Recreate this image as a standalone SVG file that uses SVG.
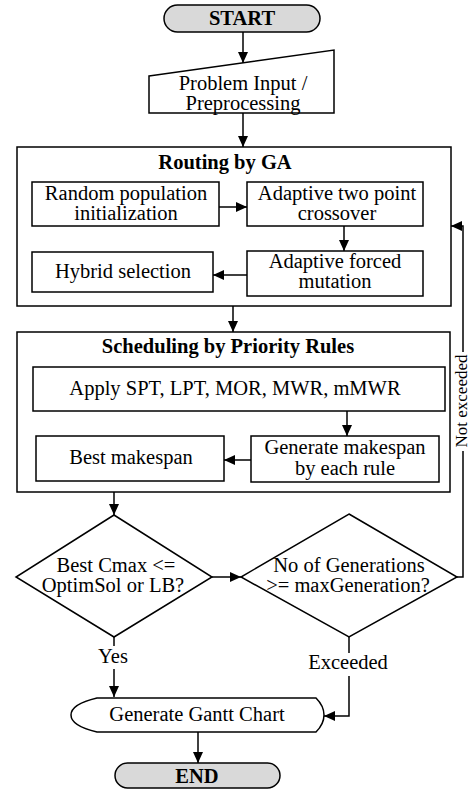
<svg xmlns="http://www.w3.org/2000/svg" width="470" height="789" viewBox="0 0 470 789">
<style>
  .shape { fill: #ffffff; stroke: #000000; stroke-width: 1.5; }
  .term { fill: #d9d9d9; stroke: #000000; stroke-width: 1.5; }
  .t { font-family: "Liberation Serif", "Times New Roman", serif; font-size: 20.5px; fill: #000000; text-anchor: middle; }
  .b { font-weight: bold; }
  .conn path { fill: none; stroke: #000000; stroke-width: 1.5; }
</style>
<defs>
  <marker id="arrow" markerUnits="userSpaceOnUse" markerWidth="12" markerHeight="12" refX="11" refY="6" orient="auto">
    <path d="M0,1 L11,6 L0,11 Z" fill="#000000"/>
  </marker>
</defs>
<rect width="470" height="789" fill="#ffffff"/>

<g id="start">
  <rect class="term" x="164" y="5" width="156" height="27" rx="13.5"/>
  <text class="t b" x="242" y="25">START</text>
</g>

<g id="input">
  <path class="shape" d="M149,76 L334,50 L334,113 L149,113 Z"/>
  <text class="t" x="243" y="90">Problem Input /</text>
  <text class="t" x="243" y="110">Preprocessing</text>
</g>

<g id="routing">
  <rect class="shape" x="17" y="147" width="434" height="159"/>
  <text class="t b" x="225" y="169">Routing by GA</text>
</g>

<g id="random-population">
  <rect class="shape" x="32" y="182" width="187" height="44"/>
  <text class="t" x="126" y="200">Random population</text>
  <text class="t" x="126" y="220">initialization</text>
</g>

<g id="crossover">
  <rect class="shape" x="247" y="182" width="176" height="44"/>
  <text class="t" x="337" y="200">Adaptive two point</text>
  <text class="t" x="337" y="220">crossover</text>
</g>

<g id="mutation">
  <rect class="shape" x="247" y="251" width="176" height="45"/>
  <text class="t" x="335" y="268">Adaptive forced</text>
  <text class="t" x="335" y="288">mutation</text>
</g>

<g id="hybrid-selection">
  <rect class="shape" x="32" y="252" width="181" height="40"/>
  <text class="t" x="123" y="278">Hybrid selection</text>
</g>

<g id="scheduling">
  <rect class="shape" x="17" y="332" width="433" height="160"/>
  <text class="t b" x="228" y="353">Scheduling by Priority Rules</text>
</g>

<g id="apply-rules">
  <rect class="shape" x="33" y="367" width="412" height="44"/>
  <text class="t" x="235" y="395">Apply SPT, LPT, MOR, MWR, mMWR</text>
</g>

<g id="generate-makespan">
  <rect class="shape" x="251" y="436" width="188" height="46"/>
  <text class="t" x="345" y="454">Generate makespan</text>
  <text class="t" x="345" y="475">by each rule</text>
</g>

<g id="best-makespan">
  <rect class="shape" x="36" y="436" width="188" height="45"/>
  <text class="t" x="131" y="464">Best makespan</text>
</g>

<g id="decision-cmax">
  <path class="shape" d="M114,515 L212,577 L114,637 L16,577 Z"/>
  <text class="t" x="116" y="572">Best Cmax &lt;=</text>
  <text class="t" x="113" y="592">OptimSol or LB?</text>
</g>

<g id="decision-generations">
  <path class="shape" d="M349,514 L457,577 L349,637 L241,577 Z"/>
  <text class="t" x="349" y="572">No of Generations</text>
  <text class="t" x="348" y="592">&gt;= maxGeneration?</text>
</g>

<g id="gantt">
  <path class="shape" d="M97,698 H316 Q324,706 324,715 Q324,724 316,732 H97 C80,728 71,722 71,715 C71,708 80,702 97,698 Z"/>
  <text class="t" x="197" y="721">Generate Gantt Chart</text>
</g>

<g id="end">
  <rect class="term" x="115" y="763" width="165" height="25" rx="12.5"/>
  <text class="t b" x="197" y="783">END</text>
</g>

<g id="connectors" class="conn">
  <path d="M243,32 V63" marker-end="url(#arrow)"/>
  <path d="M243,113 V147" marker-end="url(#arrow)"/>
  <path d="M219,207 H247" marker-end="url(#arrow)"/>
  <path d="M344,226 V251" marker-end="url(#arrow)"/>
  <path d="M247,275 H213" marker-end="url(#arrow)"/>
  <path d="M233,306 V332" marker-end="url(#arrow)"/>
  <path d="M347,411 V436" marker-end="url(#arrow)"/>
  <path d="M251,460 H224" marker-end="url(#arrow)"/>
  <path d="M114,492 V515" marker-end="url(#arrow)"/>
  <path d="M212,577 H241" marker-end="url(#arrow)"/>
  <path d="M457,577 H463 V451"/>
  <path d="M463,352 V226 H451" marker-end="url(#arrow)"/>
  <path d="M114,637 V646"/>
  <path d="M114,669 V697" marker-end="url(#arrow)"/>
  <path d="M349,637 V653"/>
  <path d="M349,676 V716 H324" marker-end="url(#arrow)"/>
  <path d="M198,732 V763" marker-end="url(#arrow)"/>
  <text class="t" x="113" y="663">Yes</text>
  <text class="t" x="348" y="669">Exceeded</text>
  <text class="t" style="font-size:17px" transform="translate(467,401) rotate(-90)">Not exceeded</text>
</g>
</svg>
